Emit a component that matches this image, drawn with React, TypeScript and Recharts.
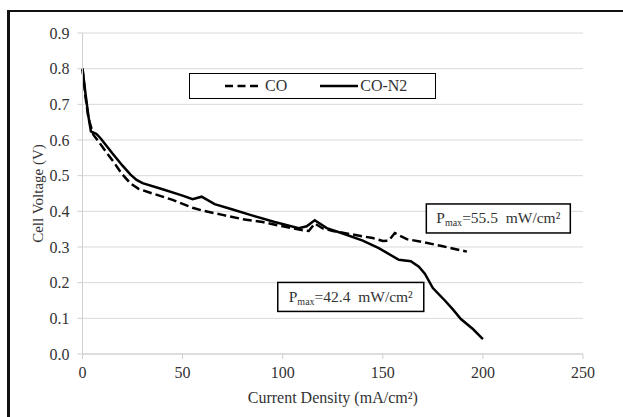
import React from 'react';
import {
  LineChart, Line, XAxis, YAxis, CartesianGrid, Legend, ReferenceDot, Label,
} from 'recharts';

// CO feed (dashed)
const coCurrent = [0, 1.5, 3, 5.5, 8, 12, 16, 19.5, 24, 28, 35, 45, 55, 60, 70, 80, 90, 100, 110, 113, 116, 120, 125, 135, 145, 150, 153, 156, 162, 170, 180, 192];
const coVoltage = [0.8, 0.72, 0.66, 0.614, 0.596, 0.565, 0.535, 0.506, 0.478, 0.463, 0.45, 0.432, 0.41, 0.402, 0.39, 0.378, 0.37, 0.358, 0.347, 0.345, 0.366, 0.352, 0.345, 0.335, 0.325, 0.317, 0.318, 0.339, 0.322, 0.314, 0.302, 0.287];

// CO-N2 feed (solid)
const coN2Current = [0, 1.5, 3, 4.2, 7, 9, 15, 20, 24, 27, 30, 40, 50, 55, 59.5, 66, 75, 85, 96, 108, 112, 116, 122, 130, 140, 148, 158, 164, 168, 171, 175, 181, 185, 189, 195, 200];
const coN2Voltage = [0.8, 0.73, 0.665, 0.624, 0.617, 0.605, 0.562, 0.528, 0.503, 0.488, 0.479, 0.462, 0.444, 0.434, 0.441, 0.42, 0.405, 0.388, 0.37, 0.353, 0.358, 0.375, 0.353, 0.338, 0.318, 0.297, 0.264, 0.26, 0.245, 0.225, 0.185, 0.15, 0.125, 0.098, 0.07, 0.042];

const xTicks = [0, 50, 100, 150, 200, 250];
const yTicks = [0, 0.1, 0.2, 0.3, 0.4, 0.5, 0.6, 0.7, 0.8, 0.9];

// annotation anchors (box centres, data units)
const notes = [
  { x: 207.7, y: 0.38, value: '55.5', w: 144, h: 29 },
  { x: 134, y: 0.16, value: '42.4', w: 146, h: 29 },
];

const coData = coCurrent.map((x, i) => ({ x, v: coVoltage[i] }));
const coN2Data = coN2Current.map((x, i) => ({ x, v: coN2Voltage[i] }));

const FONT = "'Times New Roman', 'Liberation Serif', 'DejaVu Serif', serif";
const TEXT = '#333';
const GRID = '#d9d9d9';

const PmaxBox = (props: any) => {
  const { cx, cy, w, h, value } = props;
  if (cx == null || cy == null) return null;
  return (
    <g>
      <rect x={cx - w / 2} y={cy - h / 2} width={w} height={h} fill="#fff" stroke="#000" strokeWidth={1.5} />
      <text x={cx} y={cy + 5} textAnchor="middle" fontFamily={FONT} fontSize={15.5} fill={TEXT}>
        P
        <tspan fontSize={10} dy={3}>max</tspan>
        <tspan dy={-3}>{`=${value}\u00a0 mW/cm²`}</tspan>
      </text>
    </g>
  );
};

const LegendBox = () => (
  <div
    style={{
      width: 245,
      height: 24,
      border: '1.5px solid #000',
      background: '#fff',
      display: 'flex',
      alignItems: 'center',
      fontFamily: FONT,
      fontSize: 16,
      color: TEXT,
      boxSizing: 'content-box',
    }}
  >
    <svg width={37} height={6} style={{ marginLeft: 35 }}>
      <line x1={0} y1={3} x2={37} y2={3} stroke="#000" strokeWidth={2.5} strokeDasharray="8 4.5" />
    </svg>
    <span style={{ marginLeft: 3 }}>CO</span>
    <svg width={38} height={6} style={{ marginLeft: 33 }}>
      <line x1={0} y1={3} x2={38} y2={3} stroke="#000" strokeWidth={2.5} />
    </svg>
    <span style={{ marginLeft: 2 }}>CO-N2</span>
  </div>
);

export default function App() {
  return (
    <div style={{ position: 'relative', width: 623, height: 417, background: '#fff', overflow: 'hidden', fontFamily: FONT }}>
      <style>{'html,body{margin:0;padding:0;overflow:hidden;background:#fff}'}</style>
      <LineChart
        width={623}
        height={417}
        margin={{ top: 33, right: 40, bottom: 33, left: 0 }}
        style={{ position: 'absolute', left: 0, top: 0 }}
      >
        <CartesianGrid vertical={false} stroke={GRID} strokeWidth={1} />
        <XAxis
          dataKey="x"
          type="number"
          domain={[0, 250]}
          ticks={xTicks}
          height={30}
          tickSize={5}
          tickMargin={8}
          axisLine={{ stroke: '#cfcfcf' }}
          tickLine={{ stroke: '#cfcfcf' }}
          tick={{ fontFamily: FONT, fontSize: 16, fill: TEXT }}
          allowDuplicatedCategory={false}
        >
          <Label
            value="Current Density (mA/cm²)"
            position="insideBottom"
            offset={-19}
            fontFamily={FONT}
            fontSize={16}
            fill={TEXT}
          />
        </XAxis>
        <YAxis
          type="number"
          domain={[0, 0.9]}
          ticks={yTicks}
          width={82.5}
          tickSize={5}
          tickMargin={8}
          axisLine={{ stroke: '#cfcfcf' }}
          tickLine={{ stroke: '#cfcfcf' }}
          tickFormatter={(v: number) => v.toFixed(1)}
          tick={{ fontFamily: FONT, fontSize: 16, fill: TEXT }}
        >
          <Label
            value="Cell Voltage (V)"
            angle={-90}
            position="insideLeft"
            offset={38}
            fontFamily={FONT}
            fontSize={15}
            fill={TEXT}
            style={{ textAnchor: 'middle' }}
          />
        </YAxis>
        <Legend
          layout="horizontal"
          verticalAlign="middle"
          align="center"
          wrapperStyle={{ position: 'absolute', left: 189, top: 73, width: 'auto' }}
          content={() => <LegendBox />}
        />
        <Line
          data={coData}
          dataKey="v"
          name="CO"
          type="linear"
          stroke="#000"
          strokeWidth={2.5}
          strokeDasharray="9 4"
          dot={false}
          isAnimationActive={false}
        />
        <Line
          data={coN2Data}
          dataKey="v"
          name="CO-N2"
          type="linear"
          stroke="#000"
          strokeWidth={2.5}
          dot={false}
          isAnimationActive={false}
        />
        {notes.map((n) => (
          <ReferenceDot
            key={n.value}
            x={n.x}
            y={n.y}
            r={0}
            shape={(p: any) => <PmaxBox {...p} w={n.w} h={n.h} value={n.value} />}
          />
        ))}
      </LineChart>
      {/* page frame: only the left and top edges are in view */}
      <div style={{ position: 'absolute', left: 7, top: 10, width: 3, height: 407, background: '#111', zIndex: 5 }} />
      <div style={{ position: 'absolute', left: 7, top: 10, width: 616, height: 2, background: '#111', zIndex: 5 }} />
    </div>
  );
}
